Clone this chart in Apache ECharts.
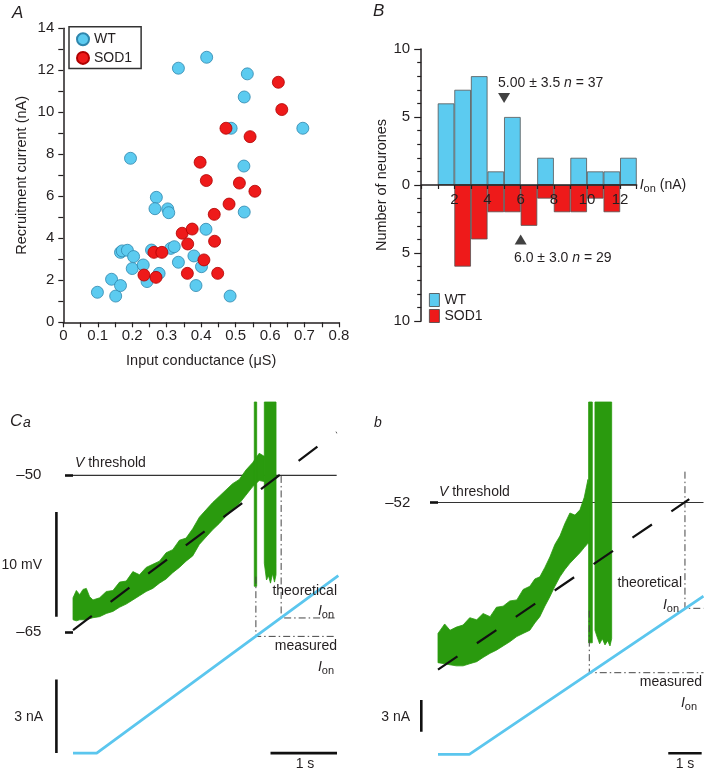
<!DOCTYPE html>
<html><head><meta charset="utf-8">
<script src="https://cdn.jsdelivr.net/npm/echarts@6/dist/echarts.min.js"></script>
<style>html,body{margin:0;padding:0;background:#fff}#c{width:704px;height:774px}</style>
</head><body><div id="c"></div>
<script>
// ================= Panel A: recruitment current vs input conductance =================
const wtConductance  = [0.099,0.140,0.152,0.166,0.166,0.171,0.186,0.204,0.200,0.195,0.232,0.243,0.256,0.270,0.266,0.303,0.306,0.278,0.312,0.322,0.334,0.334,0.416,0.379,0.385,0.401,0.414,0.484,0.487,0.534,0.525,0.524,0.525,0.695];
const wtRecruitment  = [1.43,2.05,1.25,1.75,3.33,3.40,3.43,3.13,2.56,7.81,2.73,1.94,3.44,5.95,5.41,5.40,5.22,2.33,3.52,3.60,2.86,12.10,12.62,3.16,1.75,2.65,4.43,1.25,9.24,11.83,10.73,7.44,5.25,9.24];
const sodConductance = [0.234,0.263,0.269,0.286,0.345,0.361,0.360,0.374,0.397,0.408,0.415,0.438,0.439,0.448,0.472,0.481,0.511,0.542,0.556,0.624,0.634];
const sodRecruitment = [2.25,3.33,2.14,3.33,4.24,3.73,2.33,4.44,7.62,2.97,6.75,5.14,3.86,2.33,9.24,5.63,6.63,8.84,6.24,11.43,10.13];

// ================= Panel B: histogram of I_on =================
const binLeftEdges = [1,2,3,4,5,6,7,8,9,10,11,12];
const wtCounts     = [6,7,8,1,5,0,2,0,2,1,1,2];
const sodCounts    = [0,6,4,2,2,3,1,2,2,1,2,0];
const meanMarkers  = [[5.0, 6.4], [6.0, -4.0]];   // WT mean (above), SOD1 mean (below)

// ================= Panel Ca (time s, membrane potential mV, current nA) =================
const caTime  = [0.00,0.05,0.10,0.15,0.20,0.25,0.30,0.40,0.50,0.60,0.70,0.80,0.90,1.00,1.10,1.20,1.30,1.40,1.50,1.60,1.70,1.80,1.90,2.00,2.10,2.20,2.30,2.40,2.50,2.60,2.70,2.80,2.88];
const caUpper = [-61.7,-61.0,-61.4,-60.9,-60.8,-61.6,-61.9,-61.7,-61.1,-61.0,-60.2,-60.1,-59.2,-59.5,-58.8,-58.5,-58.2,-57.4,-57.1,-56.2,-56.0,-55.1,-54.0,-53.3,-52.6,-52.0,-51.4,-50.8,-50.4,-49.5,-48.8,-47.9,-48.2];
const caLower = [-63.8,-63.9,-63.8,-63.8,-63.8,-63.7,-63.6,-63.5,-63.2,-63.0,-62.6,-62.3,-61.9,-61.5,-61.1,-60.8,-60.3,-59.9,-59.3,-58.8,-58.2,-57.7,-56.6,-55.9,-55.2,-54.6,-53.9,-53.3,-52.7,-51.9,-51.1,-50.5,-50.6];
const caSpikeThin = [[2.726,-43],[2.762,-43],[2.762,-60.6],[2.726,-60.6]];
const caSpikeBurst = [[2.877,-43],[3.053,-43],[3.053,-59.5],[3.03,-60.2],[3.00,-59.4],[2.97,-60.3],[2.94,-59.6],[2.91,-60.0],[2.877,-58.4]];
const caFit = [[0,-64.78],[3.965,-45.89]];
const caThreshold = -50, caThresholdSpan = [0, 3.965];
const caCurrentT = [0, 0.356, 3.99];
const caCurrentI = [0, 0, 7.22];
const caMeasured = {t:2.75, top:7.18, ion:4.75};
const caTheoretical = {t:3.13, top:11.28, ion:5.50};
const caEnd = 3.965;
const caVTicks = [-65,-50];
const caBarMV = [-63.5,-53.5], caBarNA = [0,3], caBarS = [2.97,3.97];

// ================= Panel Cb =================
const cbTime  = [0.00,0.20,0.36,0.55,0.75,0.95,1.16,1.35,1.56,1.75,1.95,2.15,2.36,2.55,2.75,2.90,3.05,3.20,3.35,3.50,3.65,3.80,3.95,4.10,4.25,4.38,4.49,4.52];
const cbUpper = [-64.5,-63.6,-64.2,-63.9,-63.7,-63.0,-63.2,-62.6,-62.9,-62.0,-61.9,-61.4,-61.3,-60.3,-60.0,-59.3,-59.1,-58.2,-57.2,-56.0,-55.2,-54.0,-53.0,-53.2,-52.7,-51.5,-49.8,-50.5];
const cbLower = [-67.3,-67.4,-67.5,-67.6,-67.6,-67.4,-67.2,-66.8,-66.4,-66.1,-65.7,-65.3,-64.8,-64.5,-64.2,-63.5,-62.9,-61.9,-61.0,-60.0,-59.1,-58.4,-57.8,-57.3,-56.8,-56.3,-55.9,-55.9];
const cbSpikeThin = [[4.51,-42.4],[4.62,-42.4],[4.62,-65.4],[4.51,-65.4]];
const cbSpikeBurst = [[4.70,-42.4],[5.20,-42.4],[5.20,-65.0],[5.15,-65.7],[5.08,-65.2],[5.00,-65.6],[4.92,-65.0],[4.84,-65.5],[4.76,-64.8],[4.70,-64.2]];
const cbFit = [[0,-67.96],[7.524,-51.68]];
const cbThreshold = -52, cbThresholdSpan = [0, 7.95];
const cbCurrentT = [0, 0.937, 7.95];
const cbCurrentI = [0, 0, 14.96];
const cbMeasured = {t:4.53, top:13.59, ion:7.72};
const cbTheoretical = {t:7.395, top:26.74, ion:13.81};
const cbEnd = 7.95;
const cbVTicks = [-52];
const cbBarNA = [2.14,5.14], cbBarS = [6.895,7.895], cbBarSLevel = 0.1;

// ================= styling =================
const FONT = '"Liberation Sans", Arial, Helvetica, sans-serif';
const INK = '#231f20';
const CYAN = '#5ccbf0';
const RED = '#ee1a1a';
const GREEN = '#2a9a0e';
const IBLUE = '#5bc6ee';
const DASHDOT = {color:'#444', width:1, type:[7,3,1.5,3]};
const SCALE = {color:'#111', width:2.6};

function segment(xi, yi, pts, lineStyle, z) {
  return {type:'line', xAxisIndex:xi, yAxisIndex:yi, data:pts, symbol:'none', silent:true,
          z: z || 4, lineStyle: lineStyle, animation:false};
}
function polySeries(xi, yi, pts, fill, z) {
  return {type:'custom', xAxisIndex:xi, yAxisIndex:yi, silent:true, z: z || 3, data:[pts[0]],
    renderItem: (params, api) => ({type:'polygon', shape:{points: pts.map(p => api.coord(p))},
      style:{fill:fill, stroke:fill, lineWidth:0.8}})};
}
function band(t, up, lo) {
  const a = t.map((x,i) => [x, up[i]]);
  const b = t.map((x,i) => [x, lo[i]]).reverse();
  return a.concat(b);
}
const zip = (xs, ys) => xs.map((x,i) => [x, ys[i]]);

const subRich = {
  i:{fontFamily:FONT, fontStyle:'italic', fontSize:14, color:INK},
  s:{fontFamily:FONT, fontSize:11, color:INK, padding:[7,0,0,0]},
  t:{fontFamily:FONT, fontSize:14, color:INK},
  n:{fontFamily:FONT, fontStyle:'italic', fontSize:14, color:INK}
};
function T(x, y, text, align, size, italic) {
  return {type:'text', x:x, y:y, silent:true, z:100,
    style:{text:text, fill:INK, font:(italic?'italic ':'') + (size||14) + 'px ' + FONT,
           textAlign:align||'left', textVerticalAlign:'middle', rich:subRich}};
}

const axisTxt = {fontFamily:FONT, fontSize:15, color:INK};
const nameTxt = {fontFamily:FONT, fontSize:14.5, color:INK};
const inkLine = {color:INK, width:1.5};
const inkTick = {color:INK, width:1.2};

const option = {
  animation:false,
  backgroundColor:'#fff',
  textStyle:{fontFamily:FONT},
  grid:[
    {left:63.3, top:28.3, width:275.7, height:294},
    {left:421.2, top:49, width:215.5, height:272},
    {left:56.4, top:402, width:282.6, height:356},
    {left:421.3, top:402, width:282.2, height:356}
  ],
  xAxis:[
    {gridIndex:0, type:'value', min:0, max:0.8, interval:0.1,
     name:'Input conductance (μS)', nameLocation:'middle', nameGap:31, nameTextStyle:nameTxt,
     axisLine:{lineStyle:inkLine}, axisTick:{length:5, lineStyle:inkTick},
     minorTick:{show:true, splitNumber:2, length:5, lineStyle:inkTick},
     axisLabel:Object.assign({margin:6, formatter:v => String(+v.toFixed(1))}, axisTxt),
     splitLine:{show:false}},
    {gridIndex:1, type:'value', min:0, max:13, interval:1, z:10, position:'bottom', offset:-136,
     name:'{i|I}{s|on}{t| (nA)}', nameLocation:'end', nameGap:3, nameTextStyle:{rich:subRich},
     axisLine:{onZero:false, lineStyle:inkLine}, axisTick:{length:4, lineStyle:inkTick},
     axisLabel:Object.assign({margin:7, interval:0, formatter:v => (v>0 && v%2===0) ? String(v) : ''}, axisTxt),
     splitLine:{show:false}},
    {gridIndex:2, type:'value', min:-0.25, max:4.0, show:false},
    {gridIndex:3, type:'value', min:-0.5, max:7.95, show:false}
  ],
  yAxis:[
    {gridIndex:0, type:'value', min:0, max:14, interval:2,
     name:'Recruitment current (nA)', nameLocation:'middle', nameGap:34, nameTextStyle:nameTxt,
     axisLine:{show:true, lineStyle:inkLine}, axisTick:{show:true, length:5, lineStyle:inkTick},
     minorTick:{show:true, splitNumber:2, length:5, lineStyle:inkTick},
     axisLabel:Object.assign({margin:9}, axisTxt), splitLine:{show:false}},
    {gridIndex:1, type:'value', min:-10, max:10, interval:5,
     name:'Number of neurones', nameLocation:'middle', nameGap:31, nameTextStyle:nameTxt,
     axisLine:{show:true, onZero:false, lineStyle:inkLine}, axisTick:{show:true, length:7, lineStyle:inkTick},
     minorTick:{show:true, splitNumber:5, length:4, lineStyle:inkTick},
     axisLabel:Object.assign({margin:11, formatter:v => String(Math.abs(v))}, axisTxt), splitLine:{show:false}},
    {gridIndex:2, type:'value', min:-77, max:-43,
     axisLine:{show:false}, splitLine:{show:false},
     axisTick:{show:true, customValues:caVTicks, length:8, lineStyle:{color:'#111', width:2.6}},
     axisLabel:Object.assign({customValues:caVTicks, margin:15, formatter:v => '\u2013' + Math.abs(v)}, axisTxt)},
    {gridIndex:2, type:'value', min:-0.2, max:14.29, show:false},
    {gridIndex:3, type:'value', min:-76.4, max:-42.4,
     axisLine:{show:false}, splitLine:{show:false},
     axisTick:{show:true, customValues:cbVTicks, length:8, lineStyle:{color:'#111', width:2.6}},
     axisLabel:Object.assign({customValues:cbVTicks, margin:11, formatter:v => '\u2013' + Math.abs(v)}, axisTxt)},
    {gridIndex:3, type:'value', min:-0.35, max:33.33, show:false}
  ],
  legend:[
    {left:69, top:26.7, orient:'vertical', data:['WT','SOD1'], icon:'circle',
     itemWidth:12, itemHeight:12, itemGap:3.7, padding:[5,9,3,7],
     borderColor:'#333', borderWidth:1.5, textStyle:{fontFamily:FONT, fontSize:14, color:INK, lineHeight:15}},
    {left:429, top:293, orient:'vertical', data:['WT','SOD1'], icon:'rect',
     itemWidth:10, itemHeight:13, itemGap:2, padding:0,
     itemStyle:{borderColor:'#444', borderWidth:0.8},
     textStyle:{fontFamily:FONT, fontSize:14, color:INK, lineHeight:13}}
  ],
  series:[
    // ---- A
    {name:'WT', type:'scatter', xAxisIndex:0, yAxisIndex:0, data:zip(wtConductance, wtRecruitment),
     symbolSize:12, itemStyle:{color:CYAN, borderColor:'#2f86ad', borderWidth:0.8, opacity:1}, z:3},
    {name:'SOD1', type:'scatter', xAxisIndex:0, yAxisIndex:0, data:zip(sodConductance, sodRecruitment),
     symbolSize:12, itemStyle:{color:RED, borderColor:'#b00000', borderWidth:0.8, opacity:1}, z:4},
    // ---- B
    {name:'WT', type:'bar', xAxisIndex:1, yAxisIndex:1, barWidth:16.6, barGap:'-100%',
     data:binLeftEdges.map((b,i) => [b+0.5, wtCounts[i]]).filter(d => d[1] !== 0),
     itemStyle:{color:CYAN, borderColor:'#555', borderWidth:0.8}},
    {name:'SOD1', type:'bar', xAxisIndex:1, yAxisIndex:1, barWidth:16.6, barGap:'-100%',
     data:binLeftEdges.map((b,i) => [b+0.5, -sodCounts[i]]).filter(d => d[1] !== 0),
     itemStyle:{color:RED, borderColor:'#555', borderWidth:0.8}},
    {type:'scatter', xAxisIndex:1, yAxisIndex:1, data:[meanMarkers[0]], symbol:'triangle', symbolRotate:180,
     symbolSize:[12,10], itemStyle:{color:'#111'}, silent:true, z:6},
    {type:'scatter', xAxisIndex:1, yAxisIndex:1, data:[meanMarkers[1]], symbol:'triangle',
     symbolSize:[12,10], itemStyle:{color:'#111'}, silent:true, z:6},
    // ---- Ca
    polySeries(2, 2, band(caTime, caUpper, caLower), GREEN, 3),
    polySeries(2, 2, caSpikeThin, GREEN, 3),
    polySeries(2, 2, caSpikeBurst, GREEN, 3),
    segment(2, 2, [[caThresholdSpan[0], caThreshold],[caThresholdSpan[1], caThreshold]], {color:'#333', width:1.2}, 2),
    segment(2, 2, caFit, {color:'#111', width:2.2, type:[23.5,23.5]}, 5),
    segment(2, 3, zip(caCurrentT, caCurrentI), {color:IBLUE, width:2.8}, 4),
    segment(2, 3, [[caMeasured.t, caMeasured.top],[caMeasured.t, caMeasured.ion],[caEnd, caMeasured.ion]], DASHDOT, 3),
    segment(2, 3, [[caTheoretical.t, caTheoretical.top],[caTheoretical.t, caTheoretical.ion],[caEnd, caTheoretical.ion]], DASHDOT, 3),
    segment(2, 2, [[-0.25, caBarMV[0]],[-0.25, caBarMV[1]]], SCALE, 5),
    segment(2, 3, [[-0.25, caBarNA[0]],[-0.25, caBarNA[1]]], SCALE, 5),
    segment(2, 3, [[caBarS[0], 0],[caBarS[1], 0]], SCALE, 5),
    // ---- Cb
    polySeries(3, 4, band(cbTime, cbUpper, cbLower), GREEN, 3),
    polySeries(3, 4, cbSpikeThin, GREEN, 3),
    polySeries(3, 4, cbSpikeBurst, GREEN, 3),
    segment(3, 4, [[cbThresholdSpan[0], cbThreshold],[cbThresholdSpan[1], cbThreshold]], {color:'#333', width:1.2}, 2),
    segment(3, 4, cbFit, {color:'#111', width:2.2, type:[23.5,23.5]}, 5),
    segment(3, 5, zip(cbCurrentT, cbCurrentI), {color:IBLUE, width:2.8}, 4),
    segment(3, 5, [[cbMeasured.t, cbMeasured.top],[cbMeasured.t, cbMeasured.ion],[cbEnd, cbMeasured.ion]], DASHDOT, 3),
    segment(3, 5, [[cbTheoretical.t, cbTheoretical.top],[cbTheoretical.t, cbTheoretical.ion],[cbEnd, cbTheoretical.ion]], DASHDOT, 3),
    segment(3, 5, [[-0.5, cbBarNA[0]],[-0.5, cbBarNA[1]]], SCALE, 5),
    segment(3, 5, [[cbBarS[0], cbBarSLevel],[cbBarS[1], cbBarSLevel]], SCALE, 5)
  ],
  graphic:[
    T(12, 13, 'A', 'left', 17, true),
    T(373, 11, 'B', 'left', 17, true),
    T(10, 421, 'C', 'left', 17, true),
    T(23, 423, 'a', 'left', 14, true),
    T(374, 423, 'b', 'left', 14, true),
    T(498, 83, '5.00 ± 3.5 {n|n} = 37'),
    T(514, 258, '6.0 ± 3.0 {n|n} = 29'),
    T(75, 463, '{n|V} threshold'),
    T(42, 565, '10 mV', 'right'),
    T(43, 717, '3 nA', 'right'),
    T(305, 764, '1 s', 'center'),
    T(337, 591, 'theoretical', 'right'),
    T(334, 611, '{i|I}{s|on}', 'right'),
    T(337, 646, 'measured', 'right'),
    T(334, 667, '{i|I}{s|on}', 'right'),
    T(439, 492, '{n|V} threshold'),
    T(410, 717, '3 nA', 'right'),
    T(685, 764, '1 s', 'center'),
    T(682, 583, 'theoretical', 'right'),
    T(679, 605, '{i|I}{s|on}', 'right'),
    T(702, 682, 'measured', 'right'),
    T(697, 703, '{i|I}{s|on}', 'right')
  ]
};

const chart = echarts.init(document.getElementById('c'), null, {renderer:'canvas', width:704, height:774});
chart.setOption(option);
</script>
</body></html>
